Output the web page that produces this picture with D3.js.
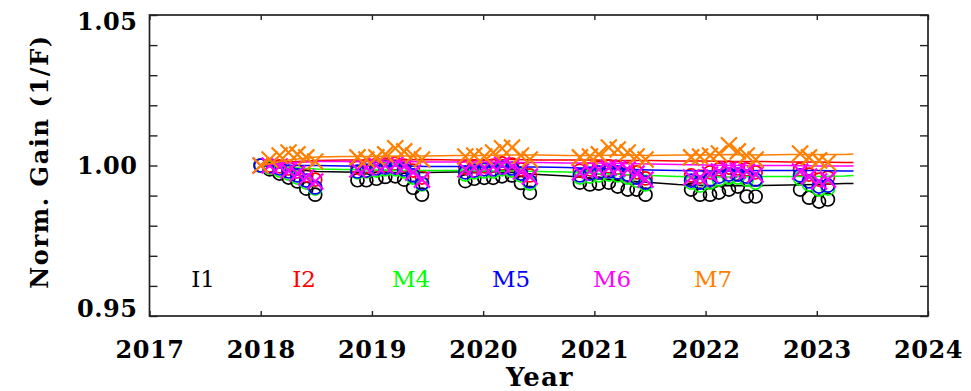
<!DOCTYPE html>
<html><head><meta charset="utf-8">
<script src="https://cdn.jsdelivr.net/npm/d3@7"></script>
<style>body{margin:0;background:#fff}svg{display:block}</style>
</head><body>
<svg id="c" width="971" height="391"></svg>
<script>
// ---------- data ----------
const seriesNames  = ["I1", "I2", "M4", "M5", "M6", "M7"];
const xTicks = [2017, 2018, 2019, 2020, 2021, 2022, 2023, 2024];
const yTicks = [0.95, 1.00, 1.05];
const yMinorTicks = [0.96, 0.97, 0.98, 0.99, 1.01, 1.02, 1.03, 1.04];

const trendTimes = [2018.00, 2018.25, 2018.50, 2018.75, 2019.00, 2019.25, 2019.50, 2019.75,
  2020.00, 2020.25, 2020.50, 2020.75, 2021.00, 2021.25, 2021.50, 2021.75,
  2022.00, 2022.25, 2022.50, 2022.75, 2023.00, 2023.25, 2023.33];
const trendI1 = [1.0000, 0.99883, 0.99800, 0.99783, 0.99767, 0.99767, 0.99767, 0.99783, 0.99783, 0.99767, 0.99700, 0.99650,
  0.99567, 0.99500, 0.99433, 0.99367, 0.99333, 0.99333, 0.99333, 0.99350, 0.99367, 0.99400, 0.99400];
const trendI2 = [1.0000, 1.00117, 1.00167, 1.00183, 1.00183, 1.00183, 1.00200, 1.00183, 1.00183, 1.00200, 1.00183, 1.00183,
  1.00183, 1.00167, 1.00167, 1.00150, 1.00150, 1.00133, 1.00133, 1.00117, 1.00117, 1.00100, 1.00100];
const trendM4 = [1.0000, 0.99933, 0.99883, 0.99867, 0.99850, 0.99833, 0.99833, 0.99833, 0.99817, 0.99817, 0.99800, 0.99783,
  0.99733, 0.99700, 0.99667, 0.99633, 0.99617, 0.99617, 0.99633, 0.99633, 0.99633, 0.99650, 0.99667];
const trendM5 = [1.0000, 1.0000, 1.0000, 0.99983, 0.99983, 0.99983, 0.99967, 0.99967, 0.99950, 0.99950, 0.99950, 0.99933,
  0.99900, 0.99883, 0.99850, 0.99833, 0.99817, 0.99817, 0.99833, 0.99833, 0.99833, 0.99817, 0.99817];
const trendM6 = [1.0000, 1.00083, 1.00133, 1.00133, 1.00133, 1.00133, 1.00117, 1.00117, 1.00117, 1.00100, 1.00100, 1.00083,
  1.00083, 1.00067, 1.00050, 1.00033, 1.00017, 1.00000, 1.00000, 1.00000, 0.99983, 0.99983, 0.99983];
const trendM7 = [1.0000, 1.00183, 1.00283, 1.00300, 1.00300, 1.00317, 1.00317, 1.00333, 1.00333, 1.00350, 1.00350, 1.00333,
  1.00333, 1.00350, 1.00333, 1.00350, 1.00350, 1.00367, 1.00350, 1.00367, 1.00367, 1.00367, 1.00383];

const campaignTimes = [
  2018.00, 2018.08, 2018.17, 2018.25, 2018.33, 2018.41, 2018.49,
  2018.87, 2018.95, 2019.04, 2019.12, 2019.21, 2019.29, 2019.37, 2019.45,
  2019.84, 2019.92, 2020.01, 2020.09, 2020.17, 2020.26, 2020.34, 2020.42,
  2020.87, 2020.96, 2021.04, 2021.13, 2021.21, 2021.30, 2021.38, 2021.46,
  2021.87, 2021.95, 2022.04, 2022.12, 2022.21, 2022.29, 2022.37, 2022.45,
  2022.85, 2022.93, 2023.02, 2023.10];
const gainI1 = [
  1.0000, 0.9987, 0.9973, 0.9960, 0.9947, 0.9923, 0.9903,
  0.9951, 0.9951, 0.9956, 0.9962, 0.9964, 0.9953, 0.9926, 0.9903,
  0.9948, 0.9956, 0.9959, 0.9959, 0.9964, 0.9967, 0.9942, 0.9909,
  0.9943, 0.9937, 0.9940, 0.9943, 0.9930, 0.9920, 0.9920, 0.9903,
  0.9920, 0.9903, 0.9903, 0.9910, 0.9920, 0.9930, 0.9897, 0.9897,
  0.9920, 0.9893, 0.9880, 0.9887];
const gainI2 = [
  1.0000, 1.0000, 0.9997, 0.9990, 0.9980, 0.9967, 0.9953,
  0.9993, 0.9997, 1.0003, 1.0003, 1.0007, 1.0000, 0.9983, 0.9960,
  0.9993, 0.9997, 0.9997, 1.0000, 1.0007, 1.0003, 0.9987, 0.9967,
  0.9983, 0.9987, 0.9993, 0.9997, 0.9993, 0.9990, 0.9977, 0.9957,
  0.9967, 0.9963, 0.9977, 0.9987, 0.9993, 0.9990, 0.9987, 0.9977,
  0.9987, 0.9970, 0.9953, 0.9960];
const gainM4 = [
  1.0000, 0.9993, 0.9983, 0.9973, 0.9960, 0.9943, 0.9923,
  0.9977, 0.9980, 0.9983, 0.9987, 0.9987, 0.9980, 0.9960, 0.9937,
  0.9970, 0.9977, 0.9980, 0.9980, 0.9987, 0.9983, 0.9967, 0.9940,
  0.9960, 0.9963, 0.9967, 0.9970, 0.9967, 0.9960, 0.9950, 0.9937,
  0.9943, 0.9933, 0.9943, 0.9953, 0.9960, 0.9960, 0.9953, 0.9943,
  0.9957, 0.9937, 0.9920, 0.9923];
const gainM5 = [
  1.0000, 0.9997, 0.9990, 0.9980, 0.9967, 0.9950, 0.9927,
  0.9980, 0.9983, 0.9990, 0.9993, 0.9993, 0.9987, 0.9967, 0.9940,
  0.9977, 0.9983, 0.9987, 0.9987, 0.9993, 0.9990, 0.9973, 0.9947,
  0.9967, 0.9973, 0.9977, 0.9980, 0.9977, 0.9970, 0.9960, 0.9943,
  0.9950, 0.9943, 0.9953, 0.9963, 0.9970, 0.9970, 0.9963, 0.9953,
  0.9967, 0.9947, 0.9930, 0.9933];
const gainM6 = [
  1.0000, 1.0000, 0.9997, 0.9983, 0.9973, 0.9960, 0.9947,
  0.9987, 0.9993, 1.0000, 1.0000, 1.0003, 0.9997, 0.9977, 0.9953,
  0.9987, 0.9993, 0.9993, 0.9997, 1.0003, 0.9997, 0.9980, 0.9963,
  0.9977, 0.9983, 0.9987, 0.9993, 0.9990, 0.9987, 0.9973, 0.9953,
  0.9960, 0.9960, 0.9970, 0.9980, 0.9987, 0.9983, 0.9980, 0.9970,
  0.9980, 0.9963, 0.9947, 0.9953];
const gainM7 = [
  1.0000, 1.0020, 1.0033, 1.0043, 1.0037, 1.0027, 1.0013,
  1.0027, 1.0020, 1.0027, 1.0037, 1.0057, 1.0047, 1.0033, 1.0020,
  1.0030, 1.0033, 1.0030, 1.0043, 1.0057, 1.0060, 1.0033, 1.0020,
  1.0027, 1.0030, 1.0037, 1.0060, 1.0053, 1.0043, 1.0030, 1.0020,
  1.0027, 1.0030, 1.0033, 1.0040, 1.0067, 1.0047, 1.0033, 1.0020,
  1.0040, 1.0027, 1.0017, 1.0010];

// ---------- styles / layout ----------
const colors  = ["#000000", "#ff0000", "#00ff00", "#0000ff", "#ff00ff", "#ff7f00"];
const markers = ["circle", "circle", "circle", "circle", "x", "x"];
const trends = [trendI1, trendI2, trendM4, trendM5, trendM6, trendM7];
const gains  = [gainI1, gainI2, gainM4, gainM5, gainM6, gainM7];
const labelX = [203, 304, 411, 511, 612, 713];

const L = 149.5, R = 928, T = 15, B = 316;
const FONT = "'DejaVu Serif', serif";

const svg = d3.select("#c");
const x = d3.scaleLinear().domain([2017, 2024]).range([L, R]);
const y = d3.scaleLinear().domain([0.95, 1.05]).range([B, T]);

const axisColor = "#222";

// x axes (bottom + top)
const xb = svg.append("g").attr("transform", `translate(0,${B})`)
  .call(d3.axisBottom(x).tickValues(xTicks).tickFormat(d3.format("d")).tickSizeInner(-5).tickSizeOuter(0).tickPadding(25));
const xt = svg.append("g").attr("transform", `translate(0,${T})`)
  .call(d3.axisTop(x).tickValues(xTicks).tickFormat("").tickSizeInner(-5).tickSizeOuter(0));
// y axes (left + right), major and minor
const yl = svg.append("g").attr("transform", `translate(${L},0)`)
  .call(d3.axisLeft(y).tickValues(yTicks).tickFormat(d3.format(".2f")).tickSizeInner(-8).tickSizeOuter(0).tickPadding(12));
const ylm = svg.append("g").attr("transform", `translate(${L},0)`)
  .call(d3.axisLeft(y).tickValues(yMinorTicks).tickFormat("").tickSizeInner(-8).tickSizeOuter(0));
const yr = svg.append("g").attr("transform", `translate(${R},0)`)
  .call(d3.axisRight(y).tickValues(yTicks.concat(yMinorTicks)).tickFormat("").tickSizeInner(-8).tickSizeOuter(0));

[xb, xt, yl, ylm, yr].forEach(g => {
  g.select(".domain").remove();
  g.selectAll(".tick line").attr("stroke", axisColor).attr("stroke-width", 1.4);
  g.selectAll("text").attr("font-family", FONT).attr("fill", "#000").attr("font-weight", "bold");
});
xb.selectAll("text").attr("font-size", 24).attr("letter-spacing", 0.5);
yl.selectAll("text").attr("font-size", 24).attr("letter-spacing", 0.5);
// keep end labels inside the axis span
yl.selectAll(".tick").filter(d => d === 1.05).select("text").attr("dy", "0.62em");
yl.selectAll(".tick").filter(d => d === 0.95).select("text").attr("dy", "0.0em");

// frame
svg.append("rect").attr("x", L).attr("y", T).attr("width", R - L).attr("height", B - T)
  .attr("fill", "none").attr("stroke", axisColor).attr("stroke-width", 1.7);

// axis titles
svg.append("text").attr("x", (L + R) / 2 + 1).attr("y", 386).attr("text-anchor", "middle")
  .attr("font-family", FONT).attr("font-size", 26).attr("font-weight", "bold").attr("letter-spacing", 1).text("Year");
svg.append("text").attr("transform", `translate(48,${(T + B) / 2 - 4}) rotate(-90)`).attr("text-anchor", "middle")
  .attr("font-family", FONT).attr("font-size", 24).attr("font-weight", "bold").attr("letter-spacing", 1.6).text("Norm. Gain (1/F)");

// data
const plot = svg.append("g");
const line = d3.line().x(d => x(d[0])).y(d => y(d[1]));
seriesNames.forEach((name, i) => {
  const g = plot.append("g");
  g.append("path").datum(trendTimes.map((t, k) => [t, trends[i][k]]))
    .attr("d", line).attr("fill", "none").attr("stroke", colors[i]).attr("stroke-width", 1.6);
  const pts = campaignTimes.map((t, k) => [t, gains[i][k]]);
  if (markers[i] === "circle") {
    g.selectAll("circle").data(pts).join("circle")
      .attr("cx", d => x(d[0])).attr("cy", d => y(d[1])).attr("r", 6.5)
      .attr("fill", "none").attr("stroke", colors[i]).attr("stroke-width", 1.7);
  } else {
    const s = 8;
    g.selectAll("path.x").data(pts).join("path").attr("class", "x")
      .attr("d", d => { const cx = x(d[0]), cy = y(d[1]);
        return `M${cx - s},${cy - s}L${cx + s},${cy + s}M${cx - s},${cy + s}L${cx + s},${cy - s}`; })
      .attr("fill", "none").attr("stroke", colors[i]).attr("stroke-width", 2.2);
  }
});

// series labels
svg.selectAll("text.lab").data(seriesNames).join("text").attr("class", "lab")
  .attr("x", (d, i) => labelX[i]).attr("y", 287).attr("text-anchor", "middle")
  .attr("font-family", FONT).attr("font-size", 23).attr("fill", (d, i) => colors[i]).text(d => d);
</script>
</body></html>
